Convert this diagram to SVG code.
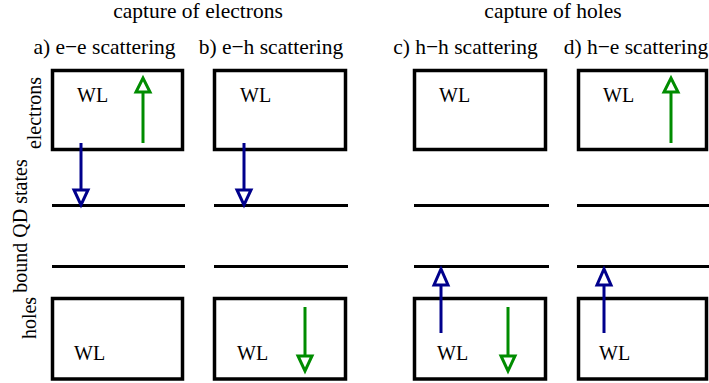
<svg xmlns="http://www.w3.org/2000/svg" width="709" height="383" viewBox="0 0 709 383">
<style>
  .title { font-size: 21.5px; text-anchor: middle; }
  .lab { font-size: 20px; text-anchor: middle; }
  .wl { font-size: 20px; }
  .box { fill: #fff; stroke: #000; stroke-width: 3.5; }
  .lvl { stroke: #000; stroke-width: 3; fill: none; }
  .blue { stroke: #00008c; stroke-width: 3; fill: none; }
  .green { stroke: #008c00; stroke-width: 3; fill: none; }
  .bh { stroke: #00008c; stroke-width: 3; fill: #fff; }
  .gh { stroke: #008c00; stroke-width: 3; fill: #fff; }
</style>
<rect width="709" height="383" fill="#fff"/>

<g id="titles" font-family="Liberation Serif, serif" fill="#000">
  <text class="title" x="198" y="18">capture of electrons</text>
  <text class="title" x="553" y="18">capture of holes</text>
  <text class="title" x="104.5" y="54">a) e−e scattering</text>
  <text class="title" x="271" y="54">b) e−h scattering</text>
  <text class="title" x="465.5" y="54">c) h−h scattering</text>
  <text class="title" x="636" y="54">d) h−e scattering</text>
</g>

<g id="side-labels" font-family="Liberation Serif, serif" fill="#000">
  <text class="lab" transform="translate(41,113) rotate(-90)">electrons</text>
  <text class="lab" transform="translate(27,226) rotate(-90)">bound QD states</text>
  <text class="lab" transform="translate(36,318) rotate(-90)">holes</text>
</g>

<g id="panel-a" font-family="Liberation Serif, serif">
  <rect class="box" x="52.5" y="70.5" width="130" height="79"/>
  <text class="wl" x="77" y="102">WL</text>
  <line class="lvl" x1="52" y1="205.5" x2="185" y2="205.5"/>
  <line class="lvl" x1="52" y1="266.5" x2="185" y2="266.5"/>
  <rect class="box" x="52.5" y="298.5" width="130" height="80.5"/>
  <text class="wl" x="74" y="360">WL</text>
</g>

<g id="panel-b" font-family="Liberation Serif, serif">
  <rect class="box" x="214.5" y="70.5" width="131" height="79"/>
  <text class="wl" x="240" y="102">WL</text>
  <line class="lvl" x1="214" y1="205.5" x2="348" y2="205.5"/>
  <line class="lvl" x1="214" y1="266.5" x2="348" y2="266.5"/>
  <rect class="box" x="214.5" y="298.5" width="131" height="80.5"/>
  <text class="wl" x="237" y="360">WL</text>
</g>

<g id="panel-c" font-family="Liberation Serif, serif">
  <rect class="box" x="414.5" y="70.5" width="131" height="79"/>
  <text class="wl" x="439" y="102">WL</text>
  <line class="lvl" x1="414" y1="205.5" x2="549" y2="205.5"/>
  <line class="lvl" x1="414" y1="266.5" x2="549" y2="266.5"/>
  <rect class="box" x="414.5" y="298.5" width="131" height="80.5"/>
  <text class="wl" x="437" y="360">WL</text>
</g>

<g id="panel-d" font-family="Liberation Serif, serif">
  <rect class="box" x="578.5" y="70.5" width="128" height="79"/>
  <text class="wl" x="603" y="102">WL</text>
  <line class="lvl" x1="577" y1="205.5" x2="709" y2="205.5"/>
  <line class="lvl" x1="577" y1="266.5" x2="709" y2="266.5"/>
  <rect class="box" x="578.5" y="298.5" width="128" height="80.5"/>
  <text class="wl" x="599" y="360">WL</text>
</g>

<g id="connectors">
  <line class="blue" x1="81" y1="143" x2="81" y2="190"/>
  <polygon class="bh" points="74,190 88,190 81,205"/>
  <line class="green" x1="143" y1="143" x2="143" y2="92"/>
  <polygon class="gh" points="136,92 150,92 143,78"/>
  <line class="blue" x1="244" y1="143" x2="244" y2="190"/>
  <polygon class="bh" points="237,190 251,190 244,205"/>
  <line class="green" x1="305" y1="307" x2="305" y2="356"/>
  <polygon class="gh" points="298,356 312,356 305,371"/>
  <line class="blue" x1="441" y1="333" x2="441" y2="285"/>
  <polygon class="bh" points="434,285 448,285 441,269"/>
  <line class="green" x1="508" y1="307" x2="508" y2="356"/>
  <polygon class="gh" points="501,356 515,356 508,371"/>
  <line class="blue" x1="604" y1="333" x2="604" y2="285"/>
  <polygon class="bh" points="597,285 611,285 604,269"/>
  <line class="green" x1="671" y1="143" x2="671" y2="92"/>
  <polygon class="gh" points="664,92 678,92 671,78"/>
</g>
</svg>
